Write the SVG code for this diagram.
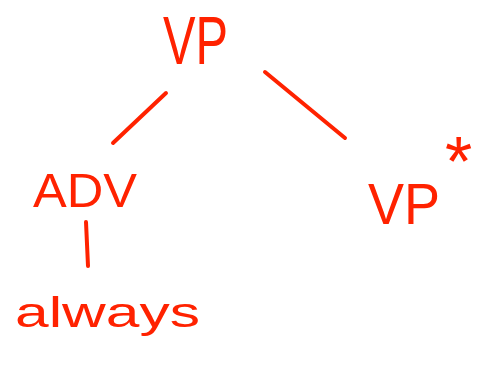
<svg xmlns="http://www.w3.org/2000/svg" width="481" height="368" viewBox="0 0 481 368">
<style>
.t{fill:#ff2200;font-family:"Liberation Sans",Arial,sans-serif;}
.e{stroke:#ff2200;stroke-width:4;stroke-linecap:round;fill:none;}
</style>
<rect width="481" height="368" fill="#ffffff"/>
<g id="connectors">
<line class="e" x1="166" y1="93" x2="113" y2="143"/>
<line class="e" x1="265" y1="72" x2="345" y2="138"/>
<line class="e" x1="86" y1="222" x2="88" y2="266"/>
</g>
<g id="node-vp"><text class="t" x="163" y="64" font-size="68" textLength="65" lengthAdjust="spacingAndGlyphs">VP</text></g>
<g id="node-adv"><text class="t" x="33" y="207" font-size="49" textLength="104" lengthAdjust="spacingAndGlyphs">ADV</text></g>
<g id="node-always"><text class="t" x="15" y="327" font-size="42" textLength="185" lengthAdjust="spacingAndGlyphs">always</text></g>
<g id="node-vpstar"><text class="t" x="368" y="224" font-size="57" textLength="72" lengthAdjust="spacingAndGlyphs">VP</text><text class="t" x="445" y="186" font-size="70">*</text></g>
</svg>
